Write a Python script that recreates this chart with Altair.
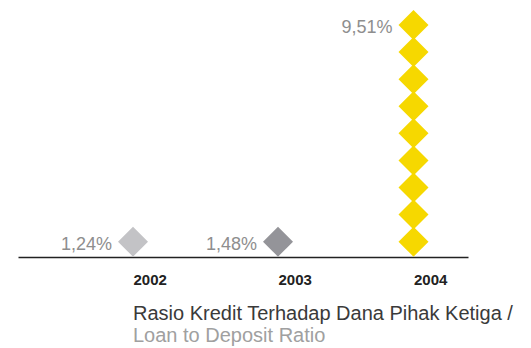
import altair as alt
import pandas as pd

years = [2002, 2003, 2004]
ratios = [1.24, 1.48, 9.51]
stack_counts = [1, 1, 9]
colors = ["#c3c3c6", "#949499", "#f6d800"]

rows = []
for y, c in zip(years, stack_counts):
    for i in range(1, c + 1):
        rows.append({"year": y, "idx": i})
diamonds = pd.DataFrame(rows)

labels = pd.DataFrame({
    "year": years,
    "idx": stack_counts,
    "label": [f"{v:.2f}".replace(".", ",") + "%" for v in ratios],
})

xscale = alt.Scale(domain=[2001, 2002, 2003, 2004, 2005], range=[0, 115, 260, 395.5, 450])
yscale = alt.Scale(domain=[0.435, 9.628], range=[249, 0], nice=False, zero=False)

x_enc = alt.X("year:Q", scale=xscale,
              axis=alt.Axis(values=years, format="d", title=None, ticks=False, grid=False,
                            domainColor="#222222", domainWidth=1.5,
                            labelFont="Liberation Sans", labelFontWeight="bold",
                            labelFontSize=15, labelColor="#222222", labelPadding=15,
                            labelAlign="left", labelFlush=False, labelOverlap=False))
y_enc = alt.Y("idx:Q", scale=yscale, axis=None)

pts = alt.Chart(diamonds).mark_point(shape="diamond", filled=True, opacity=1, size=900).encode(
    x=x_enc, y=y_enc,
    color=alt.Color("year:N", scale=alt.Scale(domain=years, range=colors), legend=None),
)

txt = alt.Chart(labels).mark_text(align="right", baseline="alphabetic", dx=-21, dy=8,
                                  font="Liberation Sans", fontSize=18,
                                  color="#8e8e8e").encode(
    x=alt.X("year:Q", scale=xscale), y=alt.Y("idx:Q", scale=yscale), text="label:N"
)

chart = alt.layer(pts, txt).properties(
    width=450, height=249,
    autosize=alt.AutoSizeParams(type="none"),
    padding={"left": 10, "top": 0, "right": 55, "bottom": 100},
    title=alt.Title(text="Rasio Kredit Terhadap Dana Pihak Ketiga /",
                    subtitle="Loan to Deposit Ratio",
                    orient="bottom", anchor="start", dx=115, offset=17,
                    font="Liberation Sans", fontWeight="normal", fontSize=20, color="#3a3a3a",
                    subtitleFont="Liberation Sans", subtitleFontSize=20,
                    subtitleColor="#a0a0a0", subtitlePadding=2),
).configure_view(stroke=None)

chart.save("out.html", embed_options={"renderer": "svg", "actions": False})
